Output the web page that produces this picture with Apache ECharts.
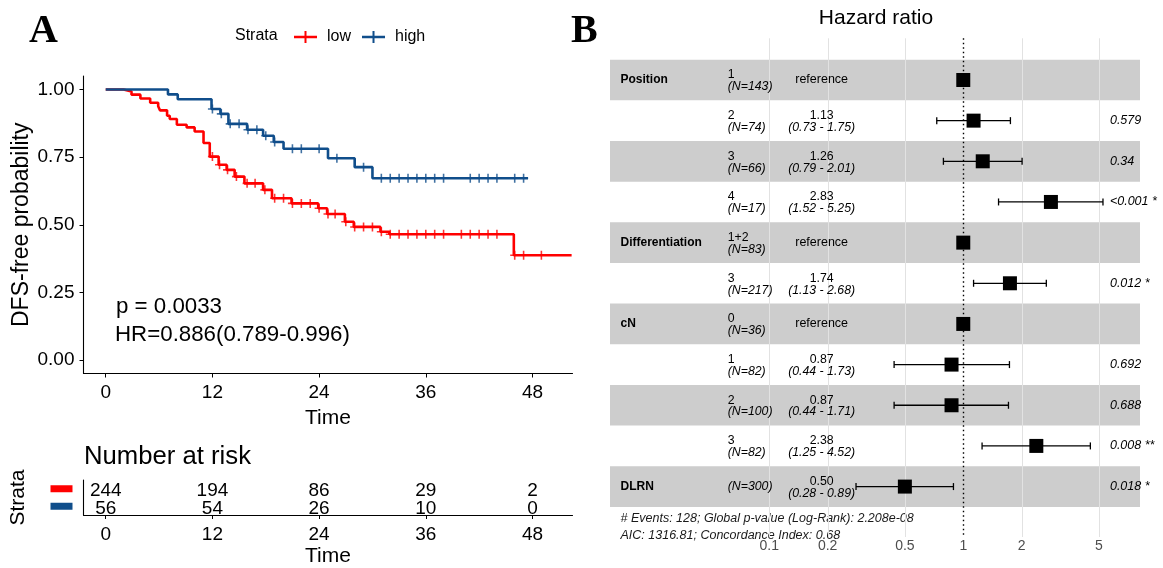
<!DOCTYPE html>
<html>
<head>
<meta charset="utf-8">
<title>DFS survival and hazard ratios</title>
<script src="https://cdn.jsdelivr.net/npm/echarts@6/dist/echarts.min.js"></script>
<style>
  html, body { margin: 0; padding: 0; background: #fff; }
  #chart { width: 1163px; height: 568px; }
</style>
</head>
<body>
<div id="chart"></div>
<script>
var SANS = '"Liberation Sans", Arial, sans-serif';
var SERIF = '"Liberation Serif", "Times New Roman", serif';
var RED = '#FF0000';
var BLUE = '#104E8B';

// Kaplan-Meier steps (time in months, survival after the step)
var lowTime = [0, 2.0, 2.9, 3.9, 5.0, 5.9, 6.1, 6.9, 7.2, 8.0, 9.1, 10.0, 11.0, 11.7, 12.7, 13.6, 14.5, 15.6, 17.7, 18.7, 20.9, 23.9, 24.9, 26.9, 27.9, 30.9, 31.9, 45.9, 52.4];
var lowSurv = [1, 0.993, 0.981, 0.967, 0.951, 0.938, 0.923, 0.903, 0.891, 0.870, 0.860, 0.845, 0.802, 0.752, 0.722, 0.703, 0.678, 0.653, 0.629, 0.598, 0.579, 0.561, 0.540, 0.511, 0.492, 0.474, 0.465, 0.387, 0.387];
var lowCensor = [12, 12.8, 13.7, 14.7, 15.9, 16.8, 17.9, 19, 20, 21, 22, 23, 24, 25, 25.8, 27, 28, 29, 30, 31, 32, 33, 34, 35, 36, 37, 38, 40, 41, 42, 43, 44, 46, 47, 49];

var highTime = [0, 7.0, 8.1, 11.9, 12.9, 13.8, 15.9, 17.7, 18.9, 20.0, 25.0, 28.0, 30.0, 47.5];
var highSurv = [1, 0.982, 0.964, 0.928, 0.910, 0.873, 0.851, 0.829, 0.806, 0.781, 0.746, 0.713, 0.672, 0.672];
var highCensor = [12, 13, 14, 15, 16, 17, 18, 19, 21, 22, 24, 26, 29, 31, 32, 33, 34, 35, 36, 37, 38, 41, 42, 43, 44, 46, 47];

var timeTicks = [0, 12, 24, 36, 48];
var survTicks = [0, 0.25, 0.5, 0.75, 1];
var riskStrata = ['high', 'low'];
var riskLow = [244, 194, 86, 29, 2];
var riskHigh = [56, 54, 26, 10, 0];

// forest plot rows
var forestVar = ['Position', '', '', '', 'Differentiation', '', 'cN', '', '', '', 'DLRN'];
var forestLevel = ['1', '2', '3', '4', '1+2', '3', '0', '1', '2', '3', ''];
var forestN = [143, 74, 66, 17, 83, 217, 36, 82, 100, 82, 300];
var forestHR = [1, 1.13, 1.26, 2.83, 1, 1.74, 1, 0.87, 0.87, 2.38, 0.50];
var forestLo = [null, 0.73, 0.79, 1.52, null, 1.13, null, 0.44, 0.44, 1.25, 0.28];
var forestHi = [null, 1.75, 2.01, 5.25, null, 2.68, null, 1.73, 1.71, 4.52, 0.89];
var forestP = ['', '0.579', '0.34', '<0.001 *', '', '0.012 *', '', '0.692', '0.688', '0.008 **', '0.018 *'];
var hrTicks = [0.1, 0.2, 0.5, 1, 2, 5];

var log10 = Math.log10;
// forest axis span (log10 units) and text column anchors
var hrMin = -1.821, hrMax = 0.911;
var rowMin = -0.025, rowMax = 12.24;
var colVar = -1.767, colLevel = -1.214, colHR = -0.730, colP = 0.756;

var PLUS = 'path://M3.3,0H4.7V8H3.3Z M0,3.3H8V4.7H0Z';
var LEGEND_ICON = 'path://M0,4.8H23V7.2H0Z M10.5,0H12.5V12H10.5Z';

function survAt(times, surv, t) {
  var s = surv[0];
  for (var i = 0; i < times.length; i++) {
    if (times[i] <= t) s = surv[i];
  }
  return s;
}
function stepData(times, surv) {
  return times.map(function (t, i) { return [t, surv[i]]; });
}
function censorData(times, surv, cens) {
  return cens.map(function (t) { return [t, survAt(times, surv, t)]; });
}
function riskData(strata, vals) {
  var k = riskStrata.indexOf(strata);
  return vals.map(function (v, i) { return [timeTicks[i], k, v]; });
}

function txt(x, y, s, o) {
  o = o || {};
  return {
    type: 'text', x: x, y: y, silent: true,
    style: {
      text: s, fill: o.fill || '#000', fontFamily: o.family || SANS,
      fontSize: o.size || 12.3, fontWeight: o.weight || 'normal', fontStyle: o.style || 'normal',
      align: o.align || 'left', verticalAlign: 'middle'
    }
  };
}

function renderRisk(params, api) {
  var p = api.coord([api.value(0), api.value(1)]);
  return txt(p[0], p[1] + 2.5, String(api.value(2)), { size: 19, align: 'center' });
}

function renderBand(params, api) {
  var r = api.value(1);
  var p0 = api.coord([hrMin, r - 0.5]);
  var p1 = api.coord([hrMax, r + 0.5]);
  return {
    type: 'rect',
    shape: { x: p0[0], y: p0[1], width: p1[0] - p0[0], height: p1[1] - p0[1] },
    style: { fill: '#CDCDCD' }
  };
}

function renderGrid(params, api) {
  var v = api.value(0);
  var a = api.coord([v, rowMin]);
  var b = api.coord([v, rowMax]);
  var isOne = Math.abs(v) < 1e-9;
  return {
    type: 'line',
    shape: { x1: Math.round(a[0]) + 0.5, y1: a[1], x2: Math.round(a[0]) + 0.5, y2: b[1] },
    style: isOne ? { stroke: '#000', lineWidth: 1.4, lineDash: [1.5, 3] } : { stroke: '#E2E2E2', lineWidth: 1 }
  };
}

function renderForest(params, api) {
  var i = params.dataIndex;
  var row = api.value(1);
  var c = api.coord([api.value(0), row]);
  var y = c[1];
  var xs = function (v) { return api.coord([v, row])[0]; };
  var kids = [];
  if (forestLo[i] != null) {
    var x0 = xs(log10(forestLo[i])), x1 = xs(log10(forestHi[i]));
    var ls = { stroke: '#000', lineWidth: 1.3 };
    kids.push({ type: 'line', shape: { x1: x0, y1: y, x2: x1, y2: y }, style: ls });
    kids.push({ type: 'line', shape: { x1: x0, y1: y - 3.5, x2: x0, y2: y + 3.5 }, style: ls });
    kids.push({ type: 'line', shape: { x1: x1, y1: y - 3.5, x2: x1, y2: y + 3.5 }, style: ls });
  }
  kids.push({ type: 'rect', shape: { x: c[0] - 7, y: y - 7, width: 14, height: 14 }, style: { fill: '#000' } });

  if (forestVar[i]) kids.push(txt(xs(colVar), y, forestVar[i], { weight: 'bold', size: 12 }));
  var nTxt = '(N=' + forestN[i] + ')';
  if (forestLevel[i]) {
    kids.push(txt(xs(colLevel), y - 5, forestLevel[i]));
    kids.push(txt(xs(colLevel), y + 6.8, nTxt, { style: 'italic' }));
  } else {
    kids.push(txt(xs(colLevel), y, nTxt, { style: 'italic' }));
  }
  if (forestLo[i] == null) {
    kids.push(txt(xs(colHR), y, 'reference', { align: 'center', size: 12.5 }));
  } else {
    kids.push(txt(xs(colHR), y - 5, forestHR[i].toFixed(2), { align: 'center' }));
    kids.push(txt(xs(colHR), y + 6.8, '(' + forestLo[i].toFixed(2) + ' - ' + forestHi[i].toFixed(2) + ')', { align: 'center', style: 'italic' }));
  }
  if (forestP[i]) kids.push(txt(xs(colP), y, forestP[i], { style: 'italic', size: 12.5 }));
  return { type: 'group', children: kids };
}

var axisBlack = { show: true, onZero: false, lineStyle: { color: '#000', width: 1.1 } };
var tickBlack = { show: true, customValues: timeTicks, length: 4, lineStyle: { color: '#000' } };

var option = {
  animation: false,
  backgroundColor: '#fff',
  textStyle: { fontFamily: SANS },
  legend: {
    data: ['low', 'high'],
    left: 289, top: 24,
    icon: LEGEND_ICON,
    itemWidth: 23, itemHeight: 12, itemGap: 11,
    selectedMode: false,
    textStyle: { fontSize: 16, color: '#000', fontFamily: SANS, padding: [0, 0, 0, 5] }
  },
  grid: [
    { left: 83.5, width: 489, top: 76, height: 297.5 },
    { left: 83.5, width: 489, top: 480, height: 38 },
    { left: 610, width: 530, top: 38.3, height: 498.7 }
  ],
  xAxis: [
    {
      gridIndex: 0, type: 'value', min: -2.5, max: 52.5,
      name: 'Time', nameLocation: 'middle', nameGap: 28,
      nameTextStyle: { fontSize: 21, color: '#000' },
      axisLine: axisBlack,
      axisTick: tickBlack,
      axisLabel: { customValues: timeTicks, fontSize: 19, color: '#000', margin: 10 },
      splitLine: { show: false }
    },
    {
      gridIndex: 1, type: 'value', min: -2.5, max: 52.5,
      name: 'Time', nameLocation: 'middle', nameGap: 31,
      nameTextStyle: { fontSize: 21, color: '#000' },
      axisLine: axisBlack,
      axisTick: tickBlack,
      axisLabel: { customValues: timeTicks, fontSize: 19, color: '#000', margin: 10 },
      splitLine: { show: false }
    },
    {
      gridIndex: 2, type: 'value', min: hrMin, max: hrMax,
      axisLine: { show: false }, axisTick: { show: false }, splitLine: { show: false },
      axisLabel: {
        customValues: hrTicks.map(log10), fontSize: 14, color: '#4D4D4D', margin: 2,
        formatter: function (v) { return String(parseFloat(Math.pow(10, v).toPrecision(3))); }
      }
    }
  ],
  yAxis: [
    {
      gridIndex: 0, type: 'value', min: -0.05, max: 1.05,
      name: 'DFS-free probability', nameLocation: 'middle', nameGap: 50,
      nameTextStyle: { fontSize: 23, color: '#000' },
      axisLine: axisBlack,
      axisTick: { show: true, customValues: survTicks, length: 4, lineStyle: { color: '#000' } },
      axisLabel: {
        customValues: survTicks, fontSize: 19, color: '#000', margin: 9,
        formatter: function (v) { return v.toFixed(2); }
      },
      splitLine: { show: false }
    },
    {
      gridIndex: 1, type: 'category', data: riskStrata,
      name: 'Strata', nameLocation: 'middle', nameGap: 55,
      nameTextStyle: { fontSize: 21, color: '#000' },
      axisLine: axisBlack,
      axisTick: { show: false },
      axisLabel: {
        margin: 11,
        formatter: function (v) { return '{' + v + '|\u00a0}'; },
        rich: {
          low: { backgroundColor: RED, width: 22, height: 7, lineHeight: 7, fontSize: 1 },
          high: { backgroundColor: BLUE, width: 22, height: 7, lineHeight: 7, fontSize: 1 }
        }
      }
    },
    {
      gridIndex: 2, type: 'value', inverse: true, min: rowMin, max: rowMax, show: false
    }
  ],
  series: [
    {
      name: 'low', type: 'line', step: 'end', xAxisIndex: 0, yAxisIndex: 0,
      data: stepData(lowTime, lowSurv), showSymbol: false, symbol: 'none',
      lineStyle: { color: RED, width: 2.6 }, itemStyle: { color: RED }, z: 2
    },
    {
      name: 'low', type: 'scatter', xAxisIndex: 0, yAxisIndex: 0,
      data: censorData(lowTime, lowSurv, lowCensor), symbol: PLUS, symbolSize: 9,
      itemStyle: { color: RED }, z: 3
    },
    {
      name: 'high', type: 'line', step: 'end', xAxisIndex: 0, yAxisIndex: 0,
      data: stepData(highTime, highSurv), showSymbol: false, symbol: 'none',
      lineStyle: { color: BLUE, width: 2.6 }, itemStyle: { color: BLUE }, z: 4
    },
    {
      name: 'high', type: 'scatter', xAxisIndex: 0, yAxisIndex: 0,
      data: censorData(highTime, highSurv, highCensor), symbol: PLUS, symbolSize: 9,
      itemStyle: { color: BLUE }, z: 5
    },
    {
      type: 'custom', xAxisIndex: 1, yAxisIndex: 1, renderItem: renderRisk, silent: true,
      data: riskData('low', riskLow).concat(riskData('high', riskHigh))
    },
    {
      type: 'custom', xAxisIndex: 2, yAxisIndex: 2, renderItem: renderBand, silent: true, z: 1,
      data: [1, 3, 5, 7, 9, 11].map(function (r) { return [0, r]; })
    },
    {
      type: 'custom', xAxisIndex: 2, yAxisIndex: 2, renderItem: renderGrid, silent: true, z: 2,
      data: hrTicks.map(function (t) { return [log10(t), 0]; })
    },
    {
      type: 'custom', xAxisIndex: 2, yAxisIndex: 2, renderItem: renderForest, silent: true, z: 3,
      data: forestHR.map(function (h, i) { return [log10(h), i + 1]; })
    }
  ],
  graphic: [
    txt(29, 32, 'A', { family: SERIF, weight: 'bold', size: 40 }),
    txt(571, 32, 'B', { family: SERIF, weight: 'bold', size: 40 }),
    txt(235, 36, 'Strata', { size: 16 }),
    txt(116, 307, 'p = 0.0033', { size: 22.3 }),
    txt(115, 335, 'HR=0.886(0.789-0.996)', { size: 22.3 }),
    txt(84, 457, 'Number at risk', { size: 25.7 }),
    txt(876, 18, 'Hazard ratio', { size: 21, align: 'center' }),
    txt(620.5, 518.3, '# Events: 128; Global p-value (Log-Rank): 2.208e-08', { size: 12.5, style: 'italic', fill: '#1A1A1A' }),
    txt(620.5, 535.5, 'AIC: 1316.81; Concordance Index: 0.68', { size: 12.5, style: 'italic', fill: '#1A1A1A' })
  ]
};

var chart = echarts.init(document.getElementById('chart'), null, { renderer: 'canvas' });
chart.setOption(option);
</script>
</body>
</html>
